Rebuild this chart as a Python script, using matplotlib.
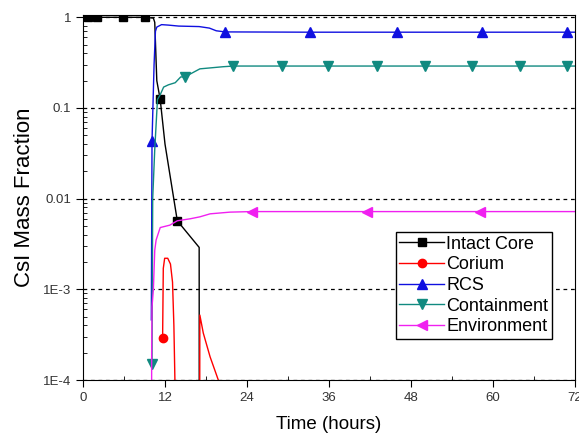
import matplotlib
matplotlib.use("Agg")
import matplotlib.pyplot as plt
from matplotlib.ticker import FixedLocator, FixedFormatter, MultipleLocator, LogLocator, NullFormatter

plt.rcParams['font.family'] = ['Liberation Sans', 'DejaVu Sans']

# time in hours, CsI mass fraction
core_t = [0, 0.7, 2.0, 5.9, 9.1, 10.3, 10.5, 10.8, 11.3, 12.0, 13.8, 17.0, 17.02]
core_v = [1.0, 1.0, 1.0, 1.0, 1.0, 0.98, 0.88, 0.2, 0.124, 0.04, 0.0057, 0.0029, 1e-6]
core_mk = [1, 2, 3, 4, 8, 10]

corium_t = [11.65, 11.75, 11.95, 12.4, 12.8, 13.1, 13.3, 13.45, 13.5,
            17.0, 17.05, 17.1, 17.6, 18.6, 19.8, 20.5]
corium_v = [2.9e-4, 1.7e-3, 2.2e-3, 2.2e-3, 1.9e-3, 1.2e-3, 4e-4, 1e-4, 1e-6,
            1e-6, 1e-6, 5.2e-4, 3.3e-4, 1.8e-4, 1e-4, 7e-5]
corium_mk = [0]

rcs_t = [10.0, 10.1, 10.4, 10.6, 10.8, 11.5, 12.5, 14.0, 17.0, 18.5, 19.5,
         20.8, 33.2, 46.0, 58.4, 70.8, 72]
rcs_v = [4.6e-4, 0.043, 0.3, 0.7, 0.78, 0.83, 0.82, 0.80, 0.79, 0.76, 0.71,
         0.69, 0.685, 0.685, 0.685, 0.685, 0.685]
rcs_mk = [1, 11, 12, 13, 14, 15]

cont_t = [10.1, 10.2, 10.5, 10.9, 11.3, 11.8, 12.5, 13.5, 14.3, 14.9, 17.1, 20.5,
          22.0, 29.1, 35.8, 43.0, 50.0, 56.9, 63.9, 70.8, 72]
cont_v = [1.5e-4, 0.01, 0.035, 0.124, 0.14, 0.17, 0.18, 0.19, 0.22, 0.22, 0.27, 0.285,
          0.29, 0.29, 0.29, 0.29, 0.29, 0.29, 0.29, 0.29, 0.29]
cont_mk = [0, 9, 12, 13, 14, 15, 16, 17, 18, 19]

env_t = [10.0, 10.05, 10.1, 10.3, 10.5, 10.7, 11.3, 12.7, 13.8, 15.7, 17.1, 18.6,
         21.5, 24.7, 41.6, 58.1, 72]
env_v = [1e-6, 2e-4, 6.4e-4, 1e-3, 0.0027, 0.0035, 0.0048, 0.0051, 0.0057, 0.006,
         0.0063, 0.0068, 0.0071, 0.0072, 0.0072, 0.0072, 0.0072]
env_mk = [13, 14, 15]

fig = plt.figure(figsize=(5.79, 4.36), dpi=100)
ax = fig.add_axes([83 / 579, 1 - 380 / 436, 492 / 579, 365 / 436])

ax.plot(core_t, core_v, '-s', color='black', lw=1, ms=6, markevery=core_mk, label='Intact Core')
ax.plot(corium_t, corium_v, '-o', color='red', lw=1, ms=6, markevery=corium_mk, label='Corium')
ax.plot(rcs_t, rcs_v, '-^', color='#1010e0', lw=1, ms=7, markevery=rcs_mk, label='RCS')
ax.plot(cont_t, cont_v, '-v', color='#118a80', lw=1, ms=7, markevery=cont_mk, label='Containment')
ax.plot(env_t, env_v, '-<', color='#f020f0', lw=1, ms=7, markevery=env_mk, label='Environment')

ax.set_yscale('log')
ax.set_xlim(0, 72)
ax.set_ylim(1e-4, 1.06)

ax.xaxis.set_major_locator(MultipleLocator(12))
ax.xaxis.set_minor_locator(MultipleLocator(6))
ax.yaxis.set_major_locator(FixedLocator([1e-4, 1e-3, 1e-2, 1e-1, 1]))
ax.yaxis.set_major_formatter(FixedFormatter(['1E-4', '1E-3', '0.01', '0.1', '1']))
ax.yaxis.set_minor_locator(LogLocator(base=10, subs=range(2, 10)))
ax.yaxis.set_minor_formatter(NullFormatter())

ax.tick_params(which='major', direction='out', length=5, labelsize=9.5, labelcolor='#333333')
ax.tick_params(which='minor', direction='in', length=3)
ax.grid(True, axis='y', which='major', color='black', linestyle=(0, (3, 3)), lw=0.9)

ax.set_xlabel('Time (hours)', fontsize=13.5, labelpad=9)
ax.set_ylabel('CsI Mass Fraction', fontsize=16, labelpad=6)

leg = ax.legend(loc='upper right', bbox_to_anchor=(0.953, 0.405), numpoints=1,
                fontsize=13, fancybox=False, edgecolor='black', framealpha=1,
                handlelength=2.5, handletextpad=0.1, labelspacing=0.2,
                borderpad=0.2, borderaxespad=0)
leg.get_frame().set_linewidth(1.0)

fig.savefig('out.png', dpi=100)
